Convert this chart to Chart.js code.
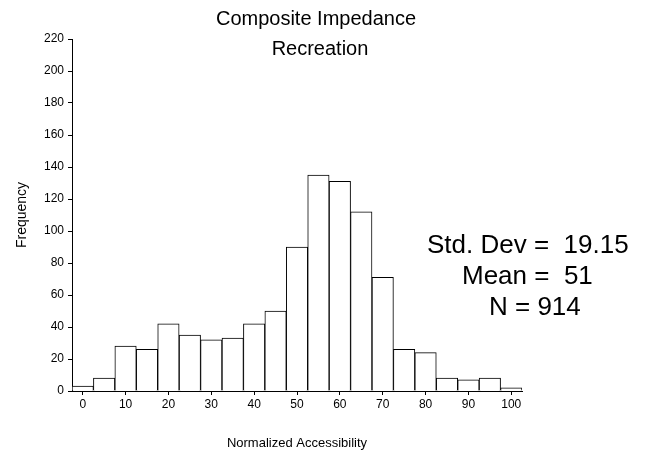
<!DOCTYPE html>
<html>
<head>
<meta charset="utf-8">
<script src="https://cdn.jsdelivr.net/npm/chart.js@4/dist/chart.umd.min.js"></script>
<style>
  body { margin: 0; background: #fff; }
  #wrap { width: 652px; height: 455px; }
</style>
</head>
<body>
<div id="wrap"><canvas id="myChart" width="652" height="455"></canvas></div>
<script>
const bins = ['0', '5', '10', '15', '20', '25', '30', '35', '40', '45', '50',
              '55', '60', '65', '70', '75', '80', '85', '90', '95', '100'];
const counts = [3, 8, 28, 26, 42, 35, 32, 33, 42, 50, 90,
                135, 131, 112, 71, 26, 24, 8, 7, 8, 2];
const titleLines = ['Composite Impedance', 'Recreation'];
const statLines = ['Std. Dev =  19.15', 'Mean =  51', 'N = 914'];

const font = 'Liberation Sans, Arial, sans-serif';

// title and stats box drawn on the canvas
const textPlugin = {
    id: 'texts',
    afterDraw(chart) {
        const c = chart.ctx;
        c.save();
        c.fillStyle = '#000';
        c.font = '20px ' + font;
        c.textAlign = 'center';
        c.textBaseline = 'middle';
        c.fillText(titleLines[0], 316, 19);
        c.fillText(titleLines[1], 320, 49);
        c.font = '26px ' + font;
        c.textAlign = 'left';
        const xs = [427, 462, 489];
        const ys = [246, 277, 308];
        statLines.forEach((s, i) => c.fillText(s, xs[i], ys[i]));
        c.restore();
    }
};

const ctx = document.getElementById('myChart').getContext('2d');

const myChart = new Chart(ctx, {
    type: 'bar',
    data: {
        labels: bins,
        datasets: [{
            data: counts,
            backgroundColor: '#fff',
            borderColor: '#000',
            borderWidth: 1,
            barPercentage: 1,
            categoryPercentage: 1
        }]
    },
    options: {
        responsive: false,
        animation: false,
        layout: {
            padding: {top: 39, right: 130, bottom: 0, left: 0}
        },
        scales: {
            x: {
                afterFit: (s) => { s.height = 64; },
                grid: {
                    offset: false,
                    drawOnChartArea: false,
                    tickLength: 4,
                    color: '#000'
                },
                border: {color: '#000'},
                ticks: {
                    autoSkip: false,
                    maxRotation: 0,
                    color: '#000',
                    padding: 2,
                    font: {family: font, size: 12},
                    callback: (v, i) => i % 2 === 0 ? bins[i] : null
                },
                title: {
                    display: true,
                    text: 'Normalized Accessibility',
                    color: '#000',
                    font: {family: font, size: 13},
                    padding: {top: 0, bottom: 4}
                }
            },
            y: {
                min: 0,
                max: 220,
                afterFit: (s) => { s.width = 72; },
                grid: {
                    drawOnChartArea: false,
                    tickLength: 4,
                    color: '#000'
                },
                border: {color: '#000'},
                ticks: {
                    stepSize: 20,
                    color: '#000',
                    padding: 4,
                    font: {family: font, size: 12}
                },
                title: {
                    display: true,
                    text: 'Frequency',
                    color: '#000',
                    font: {family: font, size: 14},
                    padding: {top: 14, bottom: 0}
                }
            }
        },
        plugins: {
            legend: {display: false},
            tooltip: {enabled: false}
        }
    },
    plugins: [textPlugin]
});
</script>
</body>
</html>
